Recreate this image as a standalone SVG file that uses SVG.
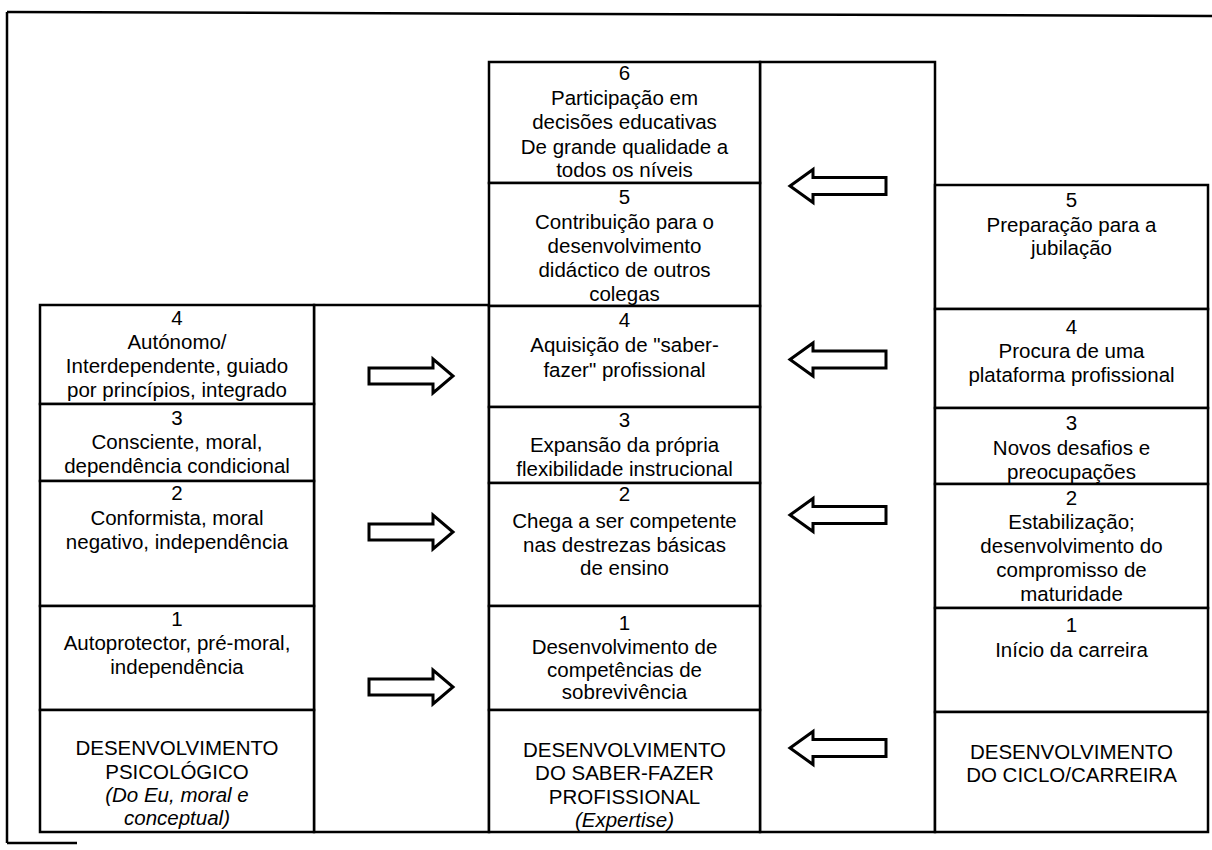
<svg xmlns="http://www.w3.org/2000/svg" width="1212" height="850" viewBox="0 0 1212 850">
<style>
  .bx { fill: #ffffff; stroke: #000000; stroke-width: 2.5; }
  .fr { fill: none; stroke: #000000; stroke-width: 2.5; }
  .t { font-family: "Liberation Sans", Arial, sans-serif; font-size: 20.5px; fill: #000000; text-anchor: middle; }
  .it { font-style: italic; }
  .ar { fill: #ffffff; stroke: #000000; stroke-width: 3; stroke-linejoin: miter; }
</style>
<defs>
  <polygon id="arrowLeft" class="ar" points="0,0 23,-16.5 23,-8.5 96,-8.5 96,8.5 23,8.5 23,16.5"/>
  <polygon id="arrowRight" class="ar" points="0,-8 64,-8 64,-17 84,0 64,17 64,8 0,8"/>
</defs>
<rect width="1212" height="850" fill="#ffffff"/>

<g id="frame">
  <line class="fr" x1="7" y1="12" x2="1212" y2="16"/>
  <line class="fr" x1="7" y1="12" x2="7" y2="843"/>
  <line class="fr" x1="7" y1="843" x2="77" y2="843"/>
</g>

<g id="bands">
  <rect class="bx" x="314" y="305" width="175" height="527"/>
  <rect class="bx" x="760" y="62" width="175" height="770"/>
</g>

<!-- Left column: psychological development -->
<g id="psi-4">
  <rect class="bx" x="40" y="305" width="274" height="99"/>
  <text class="t"><tspan x="177" y="325">4</tspan><tspan x="177" y="349">Autónomo/</tspan><tspan x="177" y="373">Interdependente, guiado</tspan><tspan x="177" y="397">por princípios, integrado</tspan></text>
</g>
<g id="psi-3">
  <rect class="bx" x="40" y="404" width="274" height="77"/>
  <text class="t"><tspan x="177" y="425">3</tspan><tspan x="177" y="449">Consciente, moral,</tspan><tspan x="177" y="473">dependência condicional</tspan></text>
</g>
<g id="psi-2">
  <rect class="bx" x="40" y="481" width="274" height="125"/>
  <text class="t"><tspan x="177" y="500">2</tspan><tspan x="177" y="525">Conformista, moral</tspan><tspan x="177" y="549">negativo, independência</tspan></text>
</g>
<g id="psi-1">
  <rect class="bx" x="40" y="606" width="274" height="104"/>
  <text class="t"><tspan x="177" y="626">1</tspan><tspan x="177" y="650">Autoprotector, pré-moral,</tspan><tspan x="177" y="674">independência</tspan></text>
</g>
<g id="psi-header">
  <rect class="bx" x="40" y="710" width="274" height="122"/>
  <text class="t"><tspan x="177" y="755">DESENVOLVIMENTO</tspan><tspan x="177" y="779">PSICOLÓGICO</tspan><tspan class="it" x="177" y="802">(Do Eu, moral e</tspan><tspan class="it" x="177" y="825">conceptual)</tspan></text>
</g>

<!-- Middle column: professional know-how -->
<g id="prof-6">
  <rect class="bx" x="489" y="62" width="271" height="121"/>
  <text class="t"><tspan x="624.5" y="80">6</tspan><tspan x="624.5" y="105">Participação em</tspan><tspan x="624.5" y="129">decisões educativas</tspan><tspan x="624.5" y="154">De grande qualidade a</tspan><tspan x="624.5" y="177">todos os níveis</tspan></text>
</g>
<g id="prof-5">
  <rect class="bx" x="489" y="183" width="271" height="123"/>
  <text class="t"><tspan x="624.5" y="204">5</tspan><tspan x="624.5" y="229">Contribuição para o</tspan><tspan x="624.5" y="253">desenvolvimento</tspan><tspan x="624.5" y="277">didáctico de outros</tspan><tspan x="624.5" y="301">colegas</tspan></text>
</g>
<g id="prof-4">
  <rect class="bx" x="489" y="306" width="271" height="101"/>
  <text class="t"><tspan x="624.5" y="327">4</tspan><tspan x="624.5" y="352">Aquisição de "saber-</tspan><tspan x="624.5" y="377">fazer" profissional</tspan></text>
</g>
<g id="prof-3">
  <rect class="bx" x="489" y="407" width="271" height="76"/>
  <text class="t"><tspan x="624.5" y="427">3</tspan><tspan x="624.5" y="452">Expansão da própria</tspan><tspan x="624.5" y="476">flexibilidade instrucional</tspan></text>
</g>
<g id="prof-2">
  <rect class="bx" x="489" y="483" width="271" height="123"/>
  <text class="t"><tspan x="624.5" y="501">2</tspan><tspan x="624.5" y="528">Chega a ser competente</tspan><tspan x="624.5" y="552">nas destrezas básicas</tspan><tspan x="624.5" y="575">de ensino</tspan></text>
</g>
<g id="prof-1">
  <rect class="bx" x="489" y="606" width="271" height="104"/>
  <text class="t"><tspan x="624.5" y="630">1</tspan><tspan x="624.5" y="654">Desenvolvimento de</tspan><tspan x="624.5" y="677">competências de</tspan><tspan x="624.5" y="699">sobrevivência</tspan></text>
</g>
<g id="prof-header">
  <rect class="bx" x="489" y="710" width="271" height="122"/>
  <text class="t"><tspan x="624.5" y="757">DESENVOLVIMENTO</tspan><tspan x="624.5" y="780">DO SABER-FAZER</tspan><tspan x="624.5" y="804">PROFISSIONAL</tspan><tspan class="it" x="624.5" y="827">(Expertise)</tspan></text>
</g>

<!-- Right column: career cycle -->
<g id="car-5">
  <rect class="bx" x="935" y="185" width="273" height="124"/>
  <text class="t"><tspan x="1071.5" y="207">5</tspan><tspan x="1071.5" y="232">Preparação para a</tspan><tspan x="1071.5" y="255">jubilação</tspan></text>
</g>
<g id="car-4">
  <rect class="bx" x="935" y="309" width="273" height="99"/>
  <text class="t"><tspan x="1071.5" y="334">4</tspan><tspan x="1071.5" y="358">Procura de uma</tspan><tspan x="1071.5" y="382">plataforma profissional</tspan></text>
</g>
<g id="car-3">
  <rect class="bx" x="935" y="408" width="273" height="76"/>
  <text class="t"><tspan x="1071.5" y="430">3</tspan><tspan x="1071.5" y="455">Novos desafios e</tspan><tspan x="1071.5" y="479">preocupações</tspan></text>
</g>
<g id="car-2">
  <rect class="bx" x="935" y="484" width="273" height="124"/>
  <text class="t"><tspan x="1071.5" y="505">2</tspan><tspan x="1071.5" y="529">Estabilização;</tspan><tspan x="1071.5" y="553">desenvolvimento do</tspan><tspan x="1071.5" y="577">compromisso de</tspan><tspan x="1071.5" y="601">maturidade</tspan></text>
</g>
<g id="car-1">
  <rect class="bx" x="935" y="608" width="273" height="104"/>
  <text class="t"><tspan x="1071.5" y="632">1</tspan><tspan x="1071.5" y="657">Início da carreira</tspan></text>
</g>
<g id="car-header">
  <rect class="bx" x="935" y="712" width="273" height="120"/>
  <text class="t"><tspan x="1071.5" y="759">DESENVOLVIMENTO</tspan><tspan x="1071.5" y="782">DO CICLO/CARREIRA</tspan></text>
</g>

<g id="connectors">
  <use href="#arrowLeft" x="790" y="186"/>
  <use href="#arrowLeft" x="790" y="359.5"/>
  <use href="#arrowLeft" x="790" y="515"/>
  <use href="#arrowLeft" x="790" y="748"/>
  <use href="#arrowRight" x="369" y="376"/>
  <use href="#arrowRight" x="369" y="532"/>
  <use href="#arrowRight" x="369" y="687"/>
</g>
</svg>
